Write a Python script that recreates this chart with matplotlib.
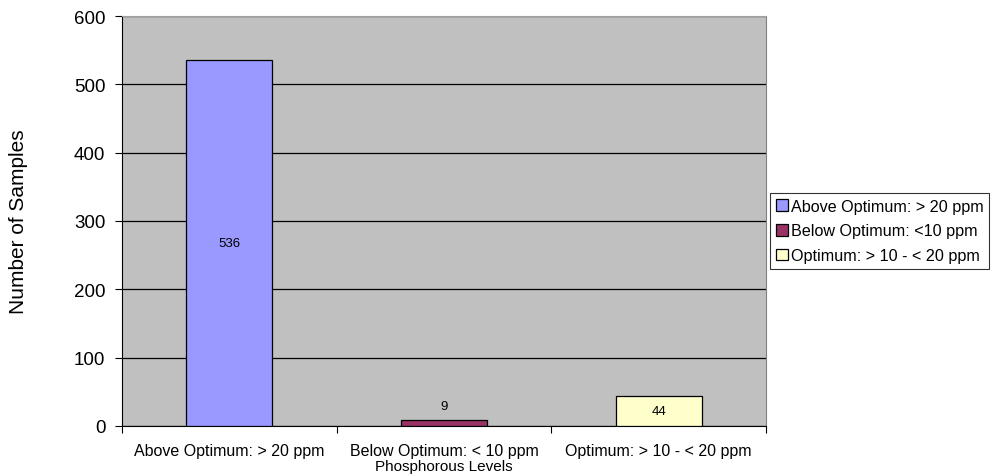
import numpy as np
import matplotlib.pyplot as plt

plt.rcParams['font.family'] = ['Liberation Sans', 'DejaVu Sans']

categories = ['Above Optimum: > 20 ppm', 'Below Optimum: < 10 ppm', 'Optimum: > 10 - < 20 ppm']
legend_labels = ['Above Optimum: > 20 ppm', 'Below Optimum: <10 ppm', 'Optimum: > 10 - < 20 ppm']
counts = [536, 9, 44]
colors = ['#9999FF', '#993366', '#FFFFCC']

fig = plt.figure(figsize=(9.93, 4.77), dpi=100)
ax = fig.add_axes([122/993, 50/477, (766-122)/993, (427-17)/477])
ax.set_facecolor('#C0C0C0')

x = np.arange(len(categories))
for i in range(len(categories)):
  ax.bar(x[i], counts[i], width=0.4, color=colors[i], edgecolor='black',
         linewidth=0.9, label=legend_labels[i], zorder=3)

ax.set_xlim(-0.5, 2.5)
ax.set_ylim(0, 600)
ax.set_yticks(range(0, 601, 100))
ax.yaxis.grid(True, color='black', linewidth=0.9, zorder=1)
ax.set_axisbelow(True)
ax.tick_params(axis='y', labelsize=13.5, length=5, direction='out', pad=7)
ax.set_xticks([-0.5, 0.5, 1.5, 2.5], minor=False)
ax.set_xticklabels([])
ax.set_xticks(x, minor=True)
ax.set_xticklabels(categories, minor=True, fontsize=11.5)
ax.tick_params(axis='x', which='major', length=5, direction='out')
ax.tick_params(axis='x', which='minor', length=0, pad=12)

ax.spines['top'].set_color('#A0A0A0')
ax.spines['right'].set_color('#808080')
ax.spines['left'].set_color('black')
ax.spines['bottom'].set_color('black')

for i, v in enumerate(counts):
  if v > 30:
    ax.text(x[i], v / 2, str(v), ha='center', va='center', fontsize=9.5, zorder=4)
  else:
    ax.text(x[i], v + 12, str(v), ha='center', va='bottom', fontsize=9.5, zorder=4)

ax.set_ylabel('Number of Samples', fontsize=15, labelpad=33)
ax.set_xlabel('Phosphorous Levels', fontsize=11, labelpad=1)

leg = ax.legend(loc='center left', bbox_to_anchor=(770/993, 245/477),
                bbox_transform=fig.transFigure, fontsize=11.6, frameon=True,
                fancybox=False, edgecolor='black', handlelength=0.75,
                handleheight=0.75, handletextpad=0.2, borderpad=0.35,
                labelspacing=0.6, borderaxespad=0)
leg.get_frame().set_linewidth(0.8)

fig.savefig('out.png', dpi=100)
